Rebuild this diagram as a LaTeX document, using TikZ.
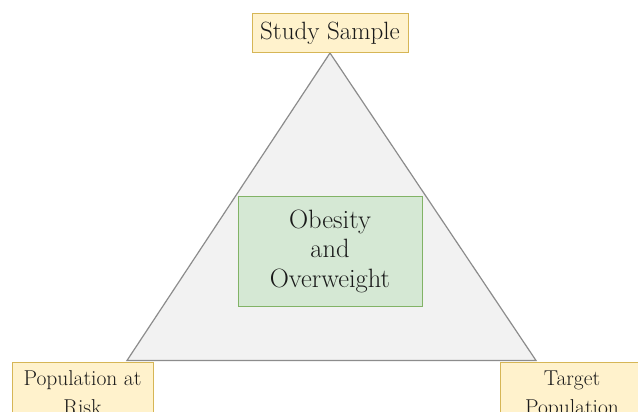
\documentclass[tikz,border=0pt]{standalone}
\usepackage{fontspec}
\usetikzlibrary{positioning}
\definecolor{yfill}{HTML}{FFF2CC}
\definecolor{ydraw}{HTML}{D6B656}
\definecolor{gfill}{HTML}{D5E8D4}
\definecolor{gdraw}{HTML}{82B366}
\definecolor{tfill}{HTML}{F2F2F2}
\definecolor{tdraw}{HTML}{8C8C8C}
\definecolor{txt}{HTML}{1A1A1A}
\begin{document}
\begin{tikzpicture}[x=1pt,y=-1pt,
  ybox/.style={draw=ydraw,fill=yfill,line width=1pt,text=txt,align=center},
  gbox/.style={draw=gdraw,fill=gfill,line width=1pt,text=txt,align=center,
    minimum width=184pt,minimum height=110pt,font=\fontsize{26.5}{29.5}\selectfont},
  tri/.style={draw=tdraw,fill=tfill,line width=1.2pt,line join=miter}]
\useasboundingbox (0,0) rectangle (638,412);
\clip (0,0) rectangle (638,412);
\fill[white] (0,0) rectangle (638,412);
% triangle
\coordinate (apex) at (330,53);
\coordinate (bl) at (127,360.5);
\coordinate (br) at (536,360.5);
\draw[tri] (apex) -- (br) -- (bl) -- cycle;
% nodes
\node[ybox,minimum width=156pt,minimum height=39pt,inner sep=0pt,
  font=\fontsize{25}{28}\selectfont] (ss) at (330,33.5) {Study Sample};
\node[gbox] (ob) at (330,251) {Obesity\\and\\Overweight};
\node[ybox,anchor=north,minimum width=141pt,inner xsep=0pt,inner ysep=8pt,
  font=\fontsize{21.5}{29}\selectfont] (par) at (82.5,362) {Population at\\Risk};
\node[ybox,anchor=north,minimum width=144pt,inner xsep=0pt,inner ysep=8pt,
  font=\fontsize{21.5}{29}\selectfont] (tp) at (572,362) {Target\\Population};
\end{tikzpicture}
\end{document}
